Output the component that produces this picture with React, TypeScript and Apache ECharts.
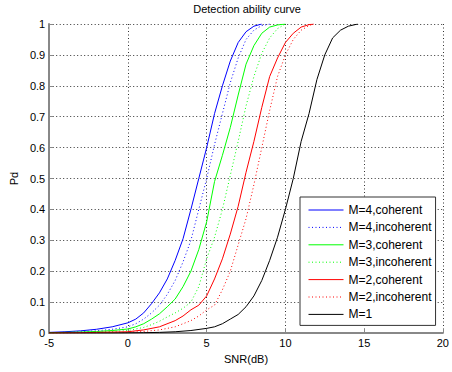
import React, { useEffect, useRef } from "react";
import * as echarts from "echarts";

// M=4, coherent (blue solid)
const snrM4Coh = [-5, -4, -3, -2, -1, 0, 0.5, 1, 1.5, 2, 2.5, 3, 3.5, 4, 4.5, 5, 5.5, 6, 6.5, 7, 7.5, 8, 8.5];
const pdM4Coh = [0.002, 0.004, 0.007, 0.012, 0.02, 0.033, 0.045, 0.065, 0.095, 0.13, 0.175, 0.235, 0.305, 0.4, 0.5, 0.6, 0.71, 0.8, 0.88, 0.94, 0.975, 0.993, 1];

// M=4, incoherent (blue dotted)
const snrM4Inc = [-5, -4, -3, -2, -1, 0, 0.5, 1, 1.5, 2, 2.5, 3, 3.5, 4, 4.5, 5, 5.5, 6, 6.5, 7, 7.5, 8, 8.5, 9];
const pdM4Inc = [0.001, 0.002, 0.004, 0.007, 0.012, 0.02, 0.03, 0.045, 0.065, 0.09, 0.125, 0.17, 0.23, 0.3, 0.4, 0.5, 0.61, 0.71, 0.81, 0.89, 0.95, 0.98, 0.995, 1];

// M=3, coherent (green solid)
const snrM3Coh = [-5, -4, -3, -2, -1, 0, 0.5, 1, 1.5, 2, 2.5, 3, 3.5, 4, 4.5, 5, 5.5, 6, 6.5, 7, 7.5, 8, 8.5, 9, 9.5, 10];
const pdM3Coh = [0.001, 0.002, 0.003, 0.005, 0.008, 0.013, 0.02, 0.03, 0.045, 0.062, 0.085, 0.11, 0.15, 0.2, 0.27, 0.36, 0.49, 0.575, 0.665, 0.77, 0.87, 0.93, 0.97, 0.99, 0.997, 1];

// M=3, incoherent (green dotted)
const snrM3Inc = [-5, -4, -3, -2, -1, 0, 1, 1.5, 2, 2.5, 3, 3.5, 4, 4.5, 5, 5.5, 6, 6.5, 7, 7.5, 8, 8.5, 9, 9.5, 10];
const pdM3Inc = [0.0005, 0.001, 0.002, 0.003, 0.005, 0.008, 0.018, 0.027, 0.038, 0.052, 0.065, 0.08, 0.1, 0.15, 0.24, 0.31, 0.4, 0.51, 0.62, 0.735, 0.83, 0.905, 0.955, 0.985, 1];

// M=2, coherent (red solid)
const snrM2Coh = [-5, -4, -3, -2, -1, 0, 1, 2, 3, 3.5, 4, 4.5, 5, 5.5, 6, 6.5, 7, 7.5, 8, 8.5, 9, 9.5, 10, 10.5, 11, 11.5, 11.8];
const pdM2Coh = [0, 0.0005, 0.001, 0.002, 0.003, 0.004, 0.01, 0.02, 0.04, 0.055, 0.075, 0.09, 0.12, 0.175, 0.24, 0.32, 0.41, 0.52, 0.62, 0.73, 0.83, 0.89, 0.94, 0.97, 0.99, 0.998, 1];

// M=2, incoherent (red dotted)
const snrM2Inc = [-5, -4, -3, -2, -1, 0, 1, 2, 3, 3.5, 4, 4.5, 5, 5.5, 6, 6.5, 7, 7.5, 8, 8.5, 9, 9.5, 10, 10.5, 11, 11.5, 11.8];
const pdM2Inc = [0, 0, 0.0005, 0.001, 0.0015, 0.002, 0.005, 0.01, 0.02, 0.03, 0.04, 0.055, 0.075, 0.09, 0.14, 0.2, 0.285, 0.37, 0.48, 0.6, 0.72, 0.83, 0.9, 0.95, 0.98, 0.995, 1];

// M=1 (black solid)
const snrM1 = [-5, -4, -3, -2, -1, 0, 1, 2, 3, 4, 5, 5.5, 6, 6.5, 7, 7.5, 8, 8.5, 9, 9.5, 10, 10.5, 11, 11.5, 12, 12.5, 13, 13.5, 14, 14.6];
const pdM1 = [0, 0, 0, 0, 0, 0.0005, 0.001, 0.002, 0.004, 0.008, 0.015, 0.02, 0.03, 0.045, 0.06, 0.085, 0.12, 0.17, 0.235, 0.31, 0.4, 0.5, 0.62, 0.71, 0.82, 0.9, 0.955, 0.98, 0.993, 1];

const seriesNames = [
  "M=4,coherent",
  "M=4,incoherent",
  "M=3,coherent",
  "M=3,incoherent",
  "M=2,coherent",
  "M=2,incoherent",
  "M=1",
];
const seriesColors = ["#0000ff", "#0000ff", "#00ff00", "#00ff00", "#ff0000", "#ff0000", "#000000"];
const seriesDotted = [false, true, false, true, false, true, false];

const xTicks = { min: -5, max: 20, step: 5 };
const yTicks = { min: 0, max: 1, step: 0.1 };

const zip = (xs: number[], ys: number[]) => xs.map((x, i) => [x, ys[i]]);

export default function App() {
  const ref = useRef<HTMLDivElement>(null);

  useEffect(() => {
    if (!ref.current) return;
    const chart = echarts.init(ref.current, undefined, { renderer: "svg" });
    const dotted = [1, 2.5];
    const lineStyleOf = (i: number) => ({
      color: seriesColors[i],
      width: 1,
      type: seriesDotted[i] ? dotted : "solid",
    });
    const xs = [snrM4Coh, snrM4Inc, snrM3Coh, snrM3Inc, snrM2Coh, snrM2Inc, snrM1];
    const ys = [pdM4Coh, pdM4Inc, pdM3Coh, pdM3Inc, pdM2Coh, pdM2Inc, pdM1];
    const series = seriesNames.map((name, i) => ({
      name,
      type: "line",
      data: zip(xs[i], ys[i]),
      showSymbol: false,
      symbol: "none",
      smooth: false,
      lineStyle: lineStyleOf(i),
      itemStyle: { color: seriesColors[i] },
      emphasis: { disabled: true },
    }));
    const font = "Liberation Sans, Arial, sans-serif";
    chart.setOption({
      animation: false,
      backgroundColor: "#fff",
      textStyle: { fontFamily: font },
      title: {
        text: "Detection ability curve",
        left: 247,
        textAlign: "center",
        top: 3,
        padding: 0,
        textStyle: { fontSize: 11, fontWeight: "normal", color: "#000", fontFamily: font },
      },
      grid: { left: 46, right: 4, top: 24, bottom: 39 },
      legend: {
        orient: "vertical",
        left: 300,
        top: 197,
        padding: [7, 4, 5, 8],
        itemWidth: 35,
        itemHeight: 12,
        itemGap: 5.4,
        borderColor: "#333",
        borderWidth: 1,
        backgroundColor: "#fff",
        textStyle: { fontSize: 12, color: "#000", fontFamily: font },
        data: seriesNames.map((name, i) => ({
          name,
          itemStyle: { opacity: 0 },
          lineStyle: lineStyleOf(i),
        })),
        selectedMode: false,
      },
      xAxis: {
        type: "value",
        min: xTicks.min,
        max: xTicks.max,
        interval: xTicks.step,
        name: "SNR(dB)",
        nameLocation: "middle",
        nameGap: 20,
        nameTextStyle: { fontSize: 11, color: "#000" },
        axisLine: { show: true, onZero: false, lineStyle: { color: "#888", width: 2 } },
        axisTick: { show: true, inside: true, length: 4, lineStyle: { color: "#888" } },
        axisLabel: { fontSize: 11, color: "#000", margin: 4 },
        splitLine: { show: true, lineStyle: { color: "#333", width: 1, type: dotted } },
      },
      yAxis: {
        type: "value",
        min: yTicks.min,
        max: yTicks.max,
        interval: yTicks.step,
        name: "Pd",
        nameLocation: "middle",
        nameGap: 30,
        nameTextStyle: { fontSize: 11, color: "#000" },
        axisLine: { show: true, onZero: false, lineStyle: { color: "#888", width: 2 } },
        axisTick: { show: true, inside: true, length: 4, lineStyle: { color: "#888" } },
        axisLabel: { fontSize: 11, color: "#000", margin: 4 },
        splitLine: { show: true, lineStyle: { color: "#333", width: 1, type: dotted } },
      },
      series,
    });
    return () => chart.dispose();
  }, []);

  return (
    <div
      ref={ref}
      style={{ position: "absolute", left: 0, top: 0, width: 452, height: 372 }}
    />
  );
}
